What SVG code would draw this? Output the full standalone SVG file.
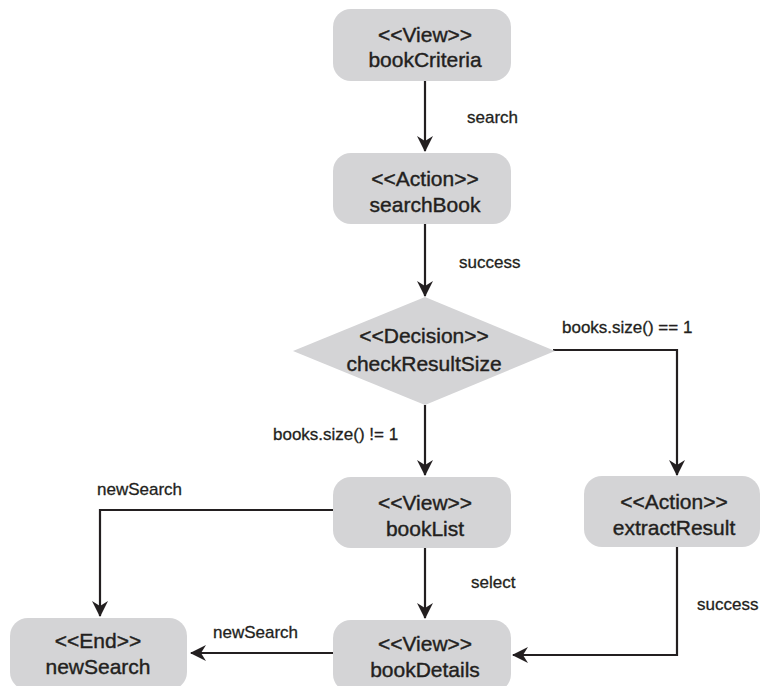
<svg xmlns="http://www.w3.org/2000/svg" width="761" height="686" viewBox="0 0 761 686">
<style>
.node{fill:#d4d4d6;stroke:none}
.nt{font-family:"Liberation Sans",Arial,sans-serif;font-size:21px;fill:#231f20;stroke:#231f20;stroke-width:0.4;text-anchor:middle}
.lb{font-family:"Liberation Sans",Arial,sans-serif;font-size:17px;fill:#231f20;stroke:#231f20;stroke-width:0.3}
.edge{fill:none;stroke:#231f20;stroke-width:2.2}
</style>
<defs>
<marker id="arr" viewBox="0 0 16 16" refX="15" refY="8" markerWidth="16" markerHeight="16" markerUnits="userSpaceOnUse" orient="auto">
<path d="M0,0 L16,8 L0,16 L5,8 Z" fill="#231f20"/>
</marker>
</defs>
<rect width="761" height="686" fill="#ffffff"/>
<g id="connectors">
<path class="edge" d="M425,81 L425,151" marker-end="url(#arr)"/>
<path class="edge" d="M425,224 L425,296" marker-end="url(#arr)"/>
<path class="edge" d="M553,350 L677,350 L677,475" marker-end="url(#arr)"/>
<path class="edge" d="M425,405 L425,475" marker-end="url(#arr)"/>
<path class="edge" d="M333,510 L100,510 L100,616" marker-end="url(#arr)"/>
<path class="edge" d="M425,548 L425,618" marker-end="url(#arr)"/>
<path class="edge" d="M333,653 L191,653" marker-end="url(#arr)"/>
<path class="edge" d="M677,547 L677,655 L513,655" marker-end="url(#arr)"/>
<text class="lb" x="467" y="123">search</text>
<text class="lb" x="459" y="268">success</text>
<text class="lb" x="562" y="333">books.size() == 1</text>
<text class="lb" x="273" y="440">books.size() != 1</text>
<text class="lb" x="97" y="495">newSearch</text>
<text class="lb" x="471" y="588">select</text>
<text class="lb" x="213" y="638">newSearch</text>
<text class="lb" x="697" y="610">success</text>
</g>
<g id="bookCriteria">
<rect class="node" x="333" y="9" width="178" height="72" rx="18"/>
<text class="nt" x="425" y="42">&lt;&lt;View&gt;&gt;</text>
<text class="nt" x="425" y="67">bookCriteria</text>
</g>
<g id="searchBook">
<rect class="node" x="333" y="153" width="178" height="71" rx="18"/>
<text class="nt" x="425" y="186">&lt;&lt;Action&gt;&gt;</text>
<text class="nt" x="425" y="212">searchBook</text>
</g>
<g id="checkResultSize">
<polygon class="node" points="425,297 555,351 425,405 293,351"/>
<text class="nt" x="424" y="343">&lt;&lt;Decision&gt;&gt;</text>
<text class="nt" x="424" y="371">checkResultSize</text>
</g>
<g id="bookList">
<rect class="node" x="333" y="477" width="178" height="71" rx="18"/>
<text class="nt" x="425" y="510">&lt;&lt;View&gt;&gt;</text>
<text class="nt" x="425" y="536">bookList</text>
</g>
<g id="extractResult">
<rect class="node" x="584" y="476" width="176" height="71" rx="18"/>
<text class="nt" x="674" y="509">&lt;&lt;Action&gt;&gt;</text>
<text class="nt" x="674" y="535">extractResult</text>
</g>
<g id="endNewSearch">
<rect class="node" x="10" y="618" width="177" height="72" rx="18"/>
<text class="nt" x="98" y="648">&lt;&lt;End&gt;&gt;</text>
<text class="nt" x="98" y="674">newSearch</text>
</g>
<g id="bookDetails">
<rect class="node" x="333" y="620" width="178" height="72" rx="18"/>
<text class="nt" x="425" y="651">&lt;&lt;View&gt;&gt;</text>
<text class="nt" x="425" y="677">bookDetails</text>
</g>
</svg>
